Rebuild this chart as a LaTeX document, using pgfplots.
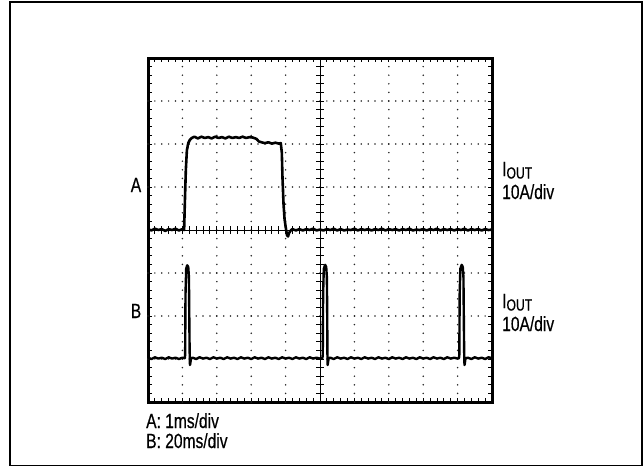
\documentclass[border=0pt]{standalone}
\usepackage{fontspec}
\setmainfont{Liberation Sans}[FakeStretch=0.76, FakeBold=0.4]
\usepackage{pgfplots}
\pgfplotsset{compat=1.18}

\pgfplotstableread{
x y
0 4.02
0.1 3.99
0.2 4.03
0.3 4.00
0.4 4.02
0.5 3.98
0.6 4.02
0.7 4.00
0.8 4.03
0.9 3.99
1.0 4.02
1.05 4.00
1.07 4.60
1.10 5.40
1.13 5.85
1.17 6.02
1.22 6.10
1.27 6.14
1.35 6.17
1.45 6.13
1.55 6.17
1.65 6.14
1.75 6.16
1.85 6.13
1.95 6.17
2.05 6.14
2.15 6.16
2.25 6.13
2.35 6.17
2.45 6.14
2.55 6.16
2.65 6.14
2.75 6.17
2.85 6.14
2.95 6.16
3.05 6.15
3.15 6.12
3.22 6.06
3.30 6.04
3.40 6.02
3.50 6.04
3.60 6.01
3.70 6.03
3.80 6.01
3.86 6.02
3.89 5.80
3.91 5.20
3.94 4.60
3.97 4.25
4.00 4.08
4.04 3.88
4.07 3.85
4.10 3.93
4.16 4.00
4.20 4.02
4.3 3.99
4.4 4.02
4.5 3.99
4.6 4.02
4.7 4.00
4.8 4.03
4.9 3.99
5.0 4.01
5.1 3.99
5.2 4.02
5.3 4.00
5.4 4.03
5.5 3.99
5.6 4.02
5.7 3.99
5.8 4.01
5.9 4.00
6.0 4.03
6.1 3.99
6.2 4.02
6.3 4.00
6.4 4.02
6.5 3.99
6.6 4.02
6.7 4.00
6.8 4.03
6.9 3.99
7.0 4.02
7.1 4.00
7.2 4.02
7.3 3.99
7.4 4.02
7.5 4.00
7.6 4.03
7.7 3.99
7.8 4.01
7.9 4.00
8.0 4.02
8.1 3.99
8.2 4.02
8.3 4.00
8.4 4.03
8.5 3.99
8.6 4.02
8.7 4.00
8.8 4.02
8.9 3.99
9.0 4.02
9.1 4.00
9.2 4.03
9.3 3.99
9.4 4.02
9.5 4.00
9.6 4.02
9.7 3.99
9.8 4.02
9.9 4.00
10.0 4.01
}\traceA

\pgfplotstableread{
x y
0 1.03
0.1 1.00
0.2 1.04
0.3 1.01
0.4 1.03
0.5 1.00
0.6 1.04
0.7 1.01
0.8 1.03
0.9 1.00
1.0 1.03
1.07 1.02
1.08 1.10
1.09 2.50
1.11 3.10
1.14 3.18
1.17 3.14
1.19 2.90
1.20 2.00
1.21 1.20
1.22 0.86
1.23 0.90
1.25 1.02
1.3 1.03
1.4 1.00
1.5 1.04
1.6 1.01
1.7 1.03
1.8 1.00
1.9 1.04
2.0 1.01
2.1 1.03
2.2 1.00
2.3 1.04
2.4 1.01
2.5 1.03
2.6 1.00
2.7 1.04
2.8 1.01
2.9 1.03
3.0 1.00
3.1 1.04
3.2 1.01
3.3 1.03
3.4 1.00
3.5 1.04
3.6 1.01
3.7 1.03
3.8 1.00
3.9 1.04
4.0 1.01
4.1 1.03
4.2 1.00
4.3 1.04
4.4 1.01
4.5 1.03
4.6 1.00
4.7 1.04
4.8 1.01
4.9 1.03
5.0 1.01
5.07 1.02
5.08 1.10
5.09 2.50
5.11 3.10
5.15 3.19
5.18 3.14
5.20 2.90
5.21 2.00
5.215 1.20
5.22 0.86
5.23 0.90
5.25 1.02
5.3 1.03
5.4 1.00
5.5 1.04
5.6 1.01
5.7 1.03
5.8 1.00
5.9 1.04
6.0 1.01
6.1 1.03
6.2 1.00
6.3 1.04
6.4 1.01
6.5 1.03
6.6 1.00
6.7 1.04
6.8 1.01
6.9 1.03
7.0 1.00
7.1 1.04
7.2 1.01
7.3 1.03
7.4 1.00
7.5 1.04
7.6 1.01
7.7 1.03
7.8 1.00
7.9 1.04
8.0 1.01
8.1 1.03
8.2 1.00
8.3 1.04
8.4 1.01
8.5 1.03
8.6 1.00
8.7 1.04
8.8 1.01
8.9 1.03
9.0 1.01
9.04 1.02
9.05 1.10
9.06 2.50
9.08 3.10
9.12 3.19
9.15 3.14
9.17 2.90
9.18 2.00
9.19 1.20
9.20 0.86
9.21 0.90
9.23 1.02
9.3 1.03
9.4 1.00
9.5 1.04
9.6 1.01
9.7 1.03
9.8 1.00
9.9 1.04
10.0 1.02
}\traceB

\begin{document}
\begin{tikzpicture}
\useasboundingbox (0,0) rectangle (644pt,467pt);
\draw[line width=1.5pt] (10pt,1.5pt) rectangle (642pt,465pt);
\begin{axis}[
  at={(148pt,65pt)}, anchor=south west,
  scale only axis, width=344pt, height=344pt,
  xmin=0, xmax=10, ymin=0, ymax=8,
  xtick={0,...,10}, ytick={0,...,8},
  minor x tick num=4, minor y tick num=4,
  xticklabels={}, yticklabels={},
  tick align=inside,
  major tick length=4pt, minor tick length=4pt,
  tick style={line width=0.9pt, black},
  axis line style={line width=3pt},
  clip=false,
]
% dotted graticule
\pgfplotsinvokeforeach{1,2,3,4,6,7,8,9}{
  \draw[black!85, line width=1.7pt, line cap=round, dash pattern=on 0pt off 8.6pt]
    (axis cs:#1,0) -- (axis cs:#1,8);
}
\pgfplotsinvokeforeach{1,2,3,5,6,7}{
  \draw[black!85, line width=1.7pt, line cap=round, dash pattern=on 0pt off 6.88pt]
    (axis cs:0,#1) -- (axis cs:10,#1);
}
% centre axes with ticks
\draw[line width=0.9pt] (axis cs:0,4) -- (axis cs:10,4);
\draw[line width=0.9pt] (axis cs:5,0) -- (axis cs:5,8);
\pgfplotsinvokeforeach{1,...,49}{
  \draw[line width=0.9pt] (axis cs:0,4) ++(#1*6.88pt,-4pt) -- ++(0,8pt);
}
\pgfplotsinvokeforeach{1,...,39}{
  \draw[line width=0.9pt] (axis cs:5,0) ++(-4pt,#1*8.6pt) -- ++(8pt,0);
}
\addplot[black, line width=2.6pt, line join=round, mark=none] table[x=x,y=y] {\traceA};
\addplot[black, line width=2.4pt, line join=round, mark=none] table[x=x,y=y] {\traceB};
\end{axis}
\node[anchor=base, inner sep=0pt] at (136pt,275pt) {\fontsize{20.5}{23}\selectfont A};
\node[anchor=base, inner sep=0pt] at (136pt,149pt) {\fontsize{20.5}{23}\selectfont B};
\node[anchor=base west, inner sep=0pt] at (502pt,291pt) {\fontsize{20.5}{23}\selectfont I\raisebox{-2.5pt}[\height][0pt]{\fontsize{16}{18}\selectfont OUT}};
\node[anchor=base west, inner sep=0pt] at (502pt,268pt) {\fontsize{20.5}{23}\selectfont 10A/div};
\node[anchor=base west, inner sep=0pt] at (502pt,159pt) {\fontsize{20.5}{23}\selectfont I\raisebox{-2.5pt}[\height][0pt]{\fontsize{16}{18}\selectfont OUT}};
\node[anchor=base west, inner sep=0pt] at (502pt,136pt) {\fontsize{20.5}{23}\selectfont 10A/div};
\node[anchor=base west, inner sep=0pt] at (146pt,39pt) {\fontsize{20.5}{23}\selectfont A: 1ms/div};
\node[anchor=base west, inner sep=0pt] at (146pt,19pt) {\fontsize{20.5}{23}\selectfont B: 20ms/div};
\end{tikzpicture}
\end{document}
